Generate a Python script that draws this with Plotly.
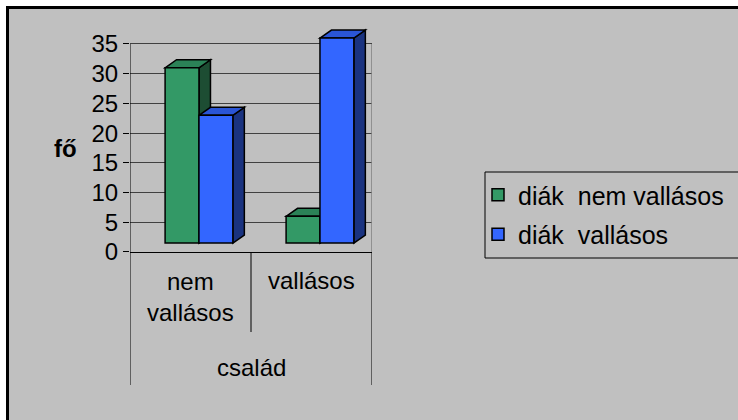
import plotly.graph_objects as go

# ---- data ----
categories = ["nem vallásos", "vallásos"]
category_labels = ["nem<br>vallásos", "vallásos"]
axis_title_x = "család"
axis_title_y = "fő"
series_names = ["diák\u00a0\u00a0nem vallásos", "diák\u00a0\u00a0vallásos"]
diak_nem_vallasos = [31, 6]
diak_vallasos = [23, 36]
y_ticks = [0, 5, 10, 15, 20, 25, 30, 35]

# ---- style ----
W, H = 738, 420
FONT = "Liberation Sans, Arial, sans-serif"
FS = 24
BG = "#C0C0C0"
front_colors = ["#339966", "#3366FF"]
top_colors = ["#2B8257", "#2A55D6"]
side_colors = ["#1D4D33", "#1A3380"]
FLOOR = 1.5
BAR_W = 0.28
OFFSETS = [-0.21, 0.07]
DX = 0.095
DY = 1.35

def px_x(p):
    return p / W

def px_y(p):
    return (H - p) / H

xpos = list(range(len(categories)))
series = [diak_nem_vallasos, diak_vallasos]

fig = go.Figure()
shapes = []

# white outer strips (top, left) and the black frame edges of the chart box
shapes.append(dict(type="rect", xref="paper", yref="paper",
                   x0=0, x1=1, y0=px_y(6), y1=1,
                   fillcolor="white", line=dict(width=0), layer="below"))
shapes.append(dict(type="rect", xref="paper", yref="paper",
                   x0=0, x1=px_x(6), y0=0, y1=1,
                   fillcolor="white", line=dict(width=0), layer="below"))
shapes.append(dict(type="path", xref="paper", yref="paper",
                   path=f"M{px_x(7.5)},0 L{px_x(7.5)},{px_y(7.5)} L1,{px_y(7.5)}",
                   line=dict(color="black", width=3), layer="below"))

# 3D tops and sides, computed from the data
for i in xpos:
    for s, vals in enumerate(series):
        v = vals[i]
        xl = i + OFFSETS[s]
        xr = xl + BAR_W
        side = (f"M{xr},{FLOOR} L{xr + DX},{FLOOR + DY} "
                f"L{xr + DX},{v + DY} L{xr},{v} Z")
        top = (f"M{xl},{v} L{xl + DX},{v + DY} "
               f"L{xr + DX},{v + DY} L{xr},{v} Z")
        shapes.append(dict(type="path", xref="x", yref="y", path=side,
                           fillcolor=side_colors[s],
                           line=dict(color="black", width=1.5),
                           layer="between"))
        shapes.append(dict(type="path", xref="x", yref="y", path=top,
                           fillcolor=top_colors[s],
                           line=dict(color="black", width=1.5),
                           layer="between"))

# front faces
for s, vals in enumerate(series):
    fig.add_trace(go.Bar(
        x=xpos, y=[v - FLOOR for v in vals], base=FLOOR,
        width=BAR_W, offset=OFFSETS[s],
        marker=dict(color=front_colors[s], line=dict(color="black", width=1.5)),
        name=series_names[s], legendgroup=str(s),
        hoverinfo="skip",
    ))

# y axis line and right wall line
shapes.append(dict(type="line", xref="x", yref="y", x0=-0.5, x1=-0.5,
                   y0=0, y1=y_ticks[-1], line=dict(color="black", width=1)))
shapes.append(dict(type="line", xref="x", yref="y", x0=1.5, x1=1.5,
                   y0=0, y1=y_ticks[-1], line=dict(color="#808080", width=1.5)))
# category dividers
shapes.append(dict(type="line", xref="x", yref="paper", x0=-0.5, x1=-0.5,
                   y0=px_y(252), y1=px_y(385), line=dict(color="black", width=1)))
shapes.append(dict(type="line", xref="x", yref="paper", x0=0.5, x1=0.5,
                   y0=px_y(252), y1=px_y(332), line=dict(color="black", width=1)))
shapes.append(dict(type="line", xref="x", yref="paper", x0=1.5, x1=1.5,
                   y0=px_y(252), y1=px_y(385), line=dict(color="black", width=1)))
# legend box (open on the right, as in the cropped original)
shapes.append(dict(type="path", xref="paper", yref="paper",
                   path=(f"M1,{px_y(172)} L{px_x(485)},{px_y(172)} "
                         f"L{px_x(485)},{px_y(258)} L1,{px_y(258)}"),
                   line=dict(color="black", width=1), layer="below"))

annotations = []
annotations.append(dict(xref="x", yref="paper", x=xpos[0], y=px_y(296.5),
                        text=category_labels[0], showarrow=False,
                        font=dict(size=FS, color="black", family=FONT),
                        yanchor="middle"))
annotations.append(dict(xref="x", yref="paper", x=xpos[1], y=px_y(280),
                        text=category_labels[1], showarrow=False,
                        font=dict(size=FS, color="black", family=FONT),
                        yanchor="middle"))
annotations.append(dict(xref="x", yref="paper", x=0.5, y=px_y(367),
                        text=axis_title_x, showarrow=False,
                        font=dict(size=FS, color="black", family=FONT),
                        yanchor="middle"))
annotations.append(dict(xref="paper", yref="paper", x=px_x(65), y=px_y(149),
                        text=f"<b>{axis_title_y}</b>", showarrow=False,
                        font=dict(size=FS, color="black", family=FONT),
                        xanchor="center", yanchor="middle"))

YMAX = 39
fig.update_layout(
    width=W, height=H,
    margin=dict(l=0, r=0, t=0, b=0, pad=0, autoexpand=False),
    paper_bgcolor=BG,
    plot_bgcolor="rgba(0,0,0,0)",
    barmode="overlay",
    font=dict(family=FONT, size=FS, color="black"),
    shapes=shapes,
    annotations=annotations,
    showlegend=True,
    legend=dict(x=px_x(478), y=px_y(172), xanchor="left", yanchor="top",
                bgcolor="rgba(0,0,0,0)", borderwidth=0,
                font=dict(size=25, color="black", family=FONT),
                traceorder="grouped", tracegroupgap=4, itemwidth=30),
    xaxis=dict(domain=[px_x(130), px_x(372)], range=[-0.5, 1.5],
               showgrid=False, zeroline=False, showticklabels=False,
               ticks="", showline=True, linecolor="black", linewidth=1,
               automargin=False, fixedrange=True),
    yaxis=dict(domain=[px_y(252), px_y(252 - YMAX * 208 / 35)],
               range=[0, YMAX], tickvals=y_ticks,
               ticks="outside", ticklen=6, tickcolor="black", tickwidth=1,
               showgrid=True, gridcolor="#404040", gridwidth=1,
               zeroline=False, showline=False,
               tickfont=dict(size=FS, color="black", family=FONT),
               automargin=False, fixedrange=True),
)

fig.write_html(
    "out.html",
    config={"displayModeBar": False},
    post_script=("document.body.style.margin='0';"
                 "document.body.style.overflow='hidden';"
                 "document.documentElement.style.overflow='hidden';"),
)
